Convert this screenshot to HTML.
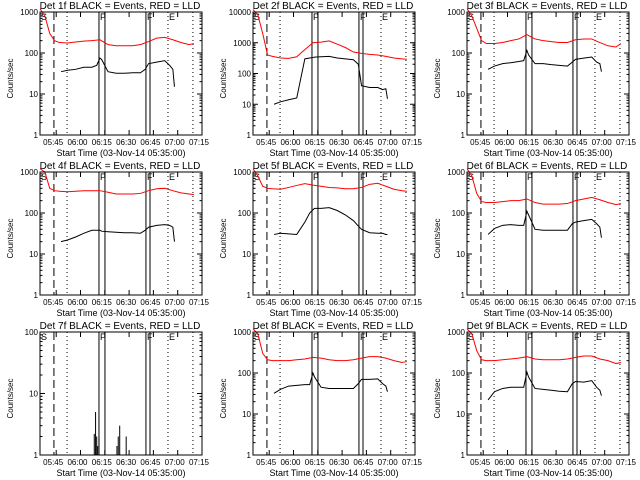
<!DOCTYPE html>
<html><head><meta charset="utf-8"><style>
body{margin:0;background:#fff;}
svg{display:block;font-family:"Liberation Sans",sans-serif;}
</style></head><body>
<svg id="c" width="640" height="480" viewBox="0 0 640 480"></svg>
<script>
const tR=[0,3,6,9,12,17,22,27,32,37,42,47,52,57,62,67,72,77,82,87,92,95];
const tB=[13,17,22,27,32,35,37,38,42,47,52,57,62,65,67,72,77,80,82,83];
const red1=[1200,800,300,200,180,175,185,195,200,210,160,150,150,150,160,190,230,240,210,180,160,170];
const blk1=[35,38,40,45,45,50,75,70,35,32,32,33,33,40,55,60,65,50,40,15];
const red2=[12000,8000,2000,400,360,320,310,350,600,1000,1050,1150,900,700,500,450,420,400,360,320,300,290];
const blk2=[10,12,14,16,300,320,330,340,350,360,320,300,280,200,40,35,35,30,32,15];
const red3=[1200,800,400,200,170,170,180,200,220,280,220,200,190,180,180,210,220,220,180,150,140,170];
const blk3=[40,48,55,58,62,65,115,90,55,55,52,50,48,60,70,75,80,60,55,35];
const red4=[1200,1000,400,350,340,330,340,350,350,350,320,290,290,290,300,350,390,400,350,310,290,280];
const blk4=[20,22,26,32,38,38,38,36,35,34,33,33,32,38,45,50,52,50,45,20];
const red5=[1200,800,450,400,390,380,420,470,520,480,450,420,410,390,390,420,500,530,450,380,350,340];
const blk5=[30,32,31,30,60,100,120,130,130,135,115,90,65,48,40,33,32,32,30,30];
const red6=[1200,800,300,190,180,180,190,200,200,220,180,165,165,165,170,200,220,240,210,180,160,170];
const blk6=[30,42,50,52,50,50,110,90,40,38,38,38,38,55,60,65,70,55,45,25];
const spikeT7=[33.5,34.3,35,35.6,36.4,47.5,48.3,49.2,53.2];
const spikeV7=[2.2,5,2,1.4,2,1.4,2,3,2];
const red8=[1200,900,300,210,200,200,200,210,220,240,230,210,200,200,210,230,250,250,230,200,180,190];
const blk8=[32,40,48,50,52,52,100,80,45,42,42,42,42,55,70,70,72,55,48,35];
const red9=[1200,900,350,210,200,200,210,220,230,250,220,210,210,210,220,240,260,260,220,200,170,180];
const blk9=[22,35,42,45,45,45,105,80,42,40,38,36,35,55,62,60,65,45,38,28];
const xTickLabels=["05:45","06:00","06:15","06:30","06:45","07:00","07:15"];
const xTickMin=[10,25,40,55,70,85,100];
const solidLines=[36.4,40.1,65.4,67.9];
const dottedLines=[16.7,79,94.4];
const dashedLine=8.6;
const markT=[0,36.4,65.4,79];
const markL=["S","F","F","E"];
const decades=[3,4,3,3,3,3,2,3,3];
const reds=[red1,red2,red3,red4,red5,red6,null,red8,red9];
const blks=[blk1,blk2,blk3,blk4,blk5,blk6,null,blk8,blk9];

const svg=document.getElementById('c');
const NS='http://www.w3.org/2000/svg';
function mk(tag,at,parent){const e=document.createElementNS(NS,tag);for(const k in at)e.setAttribute(k,at[k]);(parent||svg).appendChild(e);return e;}
const W=162,H=123,lefts=[40,253,467],tops=[12,172,332];
for(let p=0;p<9;p++){
  const L=lefts[p%3],T=tops[Math.floor(p/3)],B=T+H,D=decades[p];
  const g=mk('g',{});
  
  
  const xs=t=>L+t*W/100;
  const ys=v=>B-Math.log10(Math.max(v,1))*H/D;
  const title=mk('text',{x:L+W/2-1,y:T-3,'font-size':10,'text-anchor':'middle'},g);
  title.textContent='Det '+(p+1)+'f BLACK = Events, RED = LLD';
  
  
  const yl=mk('text',{x:0,y:0,'font-size':8,'text-anchor':'middle',transform:`translate(${L-27},${T+H/2+5}) rotate(-90)`},g);
  yl.textContent='Counts/sec';
  
  
  const xl=mk('text',{x:L+W/2,y:B+21,'font-size':9,'text-anchor':'middle'},g);
  xl.textContent='Start Time (03-Nov-14 05:35:00)';
  
  
  for(let d=0;d<=D;d++){
    const y=B-d*H/D;
    mk('line',{x1:L,x2:L+5,y1:y,y2:y,stroke:'#000'},g);
    mk('line',{x1:L+W-5,x2:L+W,y1:y,y2:y,stroke:'#000'},g);
    const tl=mk('text',{x:L-2,y:y+3,'font-size':8,'text-anchor':'end'},g);
    tl.textContent=String(Math.pow(10,d));
    
    
    if(d<D)for(let m=2;m<10;m++){const ym=y-Math.log10(m)*H/D;mk('line',{x1:L,x2:L+2.5,y1:ym,y2:ym,stroke:'#000'},g);mk('line',{x1:L+W-2.5,x2:L+W,y1:ym,y2:ym,stroke:'#000'},g);}
  }
  xTickMin.forEach((t,i)=>{
    const x=xs(t);
    mk('line',{x1:x,x2:x,y1:B,y2:B-5,stroke:'#000'},g);
    mk('line',{x1:x,x2:x,y1:T,y2:T+5,stroke:'#000'},g);
    const tl=mk('text',{x:x-3,y:B+10,'font-size':8,'text-anchor':'middle'},g);
    tl.textContent=xTickLabels[i];
    
    
  });
  solidLines.forEach(t=>mk('line',{x1:xs(t),x2:xs(t),y1:T,y2:B,stroke:'#000','stroke-width':1},g));
  dottedLines.forEach(t=>mk('line',{x1:xs(t),x2:xs(t),y1:T,y2:B,stroke:'#000','stroke-dasharray':'1,3'},g));
  mk('line',{x1:xs(dashedLine),x2:xs(dashedLine),y1:T,y2:B,stroke:'#000','stroke-dasharray':'8,4'},g);
  markT.forEach((t,i)=>{const m=mk('text',{x:xs(t)+1,y:T+8,'font-size':9},g);m.textContent=markL[i];});
  if(reds[p]){
    const r=mk('polyline',{points:tR.map((t,i)=>xs(t)+','+ys(reds[p][i])).join(' '),fill:'none',stroke:'#ff0000'},g);
    
    
    const b=mk('polyline',{points:tB.map((t,i)=>xs(t)+','+ys(blks[p][i])).join(' '),fill:'none',stroke:'#000'},g);
    
    
  } else {
    spikeT7.forEach((t,i)=>{const s=mk('line',{x1:xs(t),x2:xs(t),y1:B,y2:ys(spikeV7[i]),stroke:'#000'},g);});
  }
  mk('rect',{x:L,y:T,width:W,height:H,fill:'none',stroke:'#000'},g);
}
</script>
</body></html>
